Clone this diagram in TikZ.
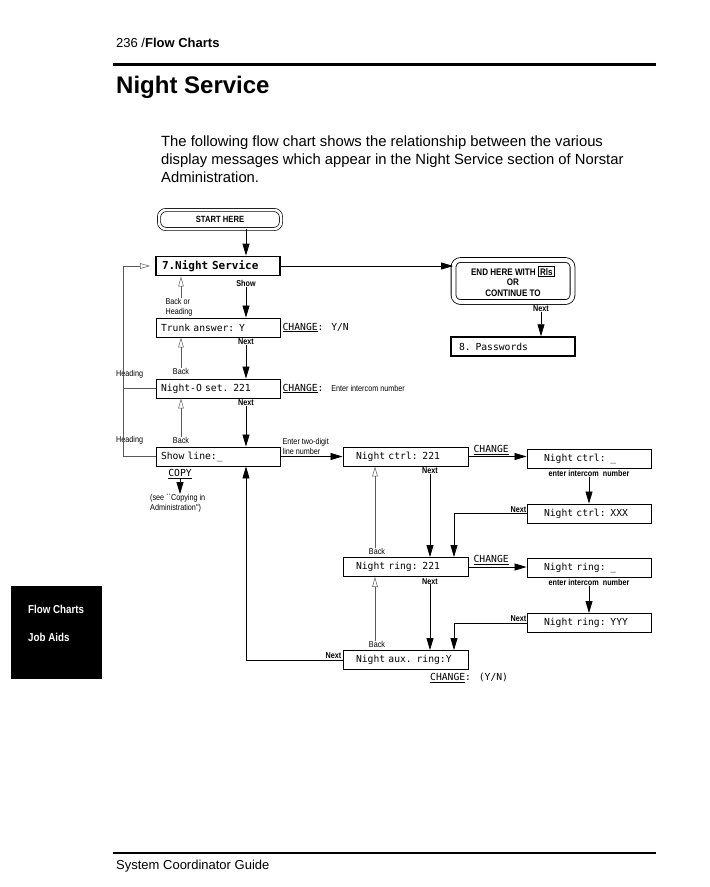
\documentclass[tikz,border=0pt]{standalone}
\usepackage{fontspec}
\setmainfont{Liberation Sans}
\newfontfamily\lcd{DejaVu Sans Mono}
\newfontfamily\cond[FakeStretch=0.85]{Liberation Sans}
\usetikzlibrary{positioning, arrows.meta, calc}
\newcommand{\Chg}{\underline{CHANGE}}
\newcommand{\Rls}{{\setlength\fboxrule{1.2pt}\setlength\fboxsep{1pt}\fbox{Rls}}}

\begin{document}
\begin{tikzpicture}[x=1pt, y=-1pt,
  every node/.style={inner sep=0pt},
  disp/.style 2 args={draw, line width=0.9pt, minimum height=19pt, inner ysep=0pt,
                      inner xsep=#1, text width=#2, align=left,
                      font=\lcd\fontsize{9.7}{10}\selectfont},
  startbox/.style={draw, double, double distance=2.5pt, line width=0.7pt,
                   rounded corners=7pt, minimum width=122pt, minimum height=19pt,
                   font=\cond\bfseries\fontsize{9}{10}\selectfont},
  endbox/.style={draw, double, double distance=4pt, line width=0.8pt,
                 rounded corners=7pt, minimum width=119pt, minimum height=42pt,
                 align=center, font=\cond\bfseries\fontsize{9.5}{10.5}\selectfont},
  lbl/.style={font=\cond\fontsize{8.5}{10}\selectfont, align=left},
  lblb/.style={font=\cond\bfseries\fontsize{8.5}{10}\selectfont},
  chg/.style={font=\lcd\fontsize{9.7}{10}\selectfont, inner xsep=2pt},
  arr/.style={-{Triangle[length=12pt, width=7pt]}, line width=0.8pt},
  back/.style={-{Triangle[open, length=10pt, width=5.5pt]}, gray!70!black, line width=0.5pt},
  backline/.style={gray!70!black, line width=0.5pt}
]
\fill[white] (0,0) rectangle (710,887);
\useasboundingbox (0,0) rectangle (710,887);

% page
\node[anchor=base west, font=\fontsize{13}{15}\selectfont] (pagehd) at (116,47) {236 /\textbf{Flow Charts}};
\draw[line width=3pt] (113,64) -- (656,64);
\node[anchor=base west, font=\bfseries\fontsize{24}{28}\selectfont] (title) at (116,93) {Night Service};
\node[anchor=north west, align=left, font=\fontsize{14.8}{18}\selectfont] (intro) at (161,136)
  {The following flow chart shows the relationship between the various\\
   display messages which appear in the Night Service section of Norstar\\
   Administration.};
\draw[line width=2pt] (113,853) -- (656,853);
\node[anchor=base west, font=\fontsize{13}{15}\selectfont] (foot) at (116,869) {System Coordinator Guide};
\fill (11,586) rectangle (102,679);
\node[anchor=base west, text=white, font=\cond\bfseries\fontsize{11.5}{13}\selectfont] (tab1) at (28,613) {Flow Charts};
\node[anchor=base west, text=white, font=\cond\bfseries\fontsize{11.5}{13}\selectfont] (tab2) at (28,641) {Job Aids};

% columns
\coordinate (cL) at (123,0);
\coordinate (cB) at (181,0);
\coordinate (cA) at (246,0);
\coordinate (cMb) at (375,0);
\coordinate (cM) at (430,0);
\coordinate (cMc) at (454,0);
\coordinate (cE) at (541,0);

% displays
\node[startbox] (start) at (220,219.5) {START HERE};
\node[disp={6pt}{112pt}, line width=1.8pt, font=\lcd\bfseries\fontsize{11}{11}\selectfont] (svc) at (218,266) {7.Night Service};
\node[endbox] (endh) at (513,281) {END HERE WITH \Rls\\OR\\CONTINUE TO};
\node[disp={8pt}{108pt}, line width=1.5pt] (pw) at (513,346.5) {8. Passwords};
\node[disp={5pt}{114pt}] (trunk) at (218,327.5) {Trunk answer: Y};
\node[disp={5pt}{114pt}] (nighto) at (218,388.5) {Night-O set. 221};
\node[disp={5pt}{114pt}] (showline) at (218,456.5) {Show line:\_};
\node[disp={13pt}{99pt}] (nctrl) at (405.5,456.5) {Night ctrl: 221};
\node[disp={13pt}{99pt}] (nring) at (405.5,567) {Night ring: 221};
\node[disp={13pt}{99pt}] (naux) at (405.5,660) {Night aux. ring:Y};
\node[disp={17pt}{90pt}] (cctrl) at (589,459) {Night ctrl: \_};
\node[disp={17pt}{90pt}] (xctrl) at (589,513.5) {Night ctrl: XXX};
\node[disp={17pt}{90pt}] (cring) at (589,568) {Night ring: \_};
\node[disp={17pt}{90pt}] (yring) at (589,623) {Night ring: YYY};

% change texts
\node[chg, anchor=west] (chg1) at (trunk.east) {\Chg: Y/N};
\node[chg, anchor=west] (chg2) at (nighto.east) {\Chg: {\cond\fontsize{8.5}{10}\selectfont Enter intercom number}};
\node[chg, anchor=south west] (chg3) at ($(nctrl.east)+(3,-2)$) {\Chg};
\node[chg, anchor=south west] (chg4) at ($(nring.east)+(3,-2)$) {\Chg};
\node[chg, anchor=north west] (chg5) at ($(naux.south -| cM)+(-2,3)$) {\Chg: (Y/N)};
\node[chg, anchor=north] (copy) at ($(showline.south -| cB)+(-1,3)$) {\underline{COPY}};
\node[lbl, anchor=north west] (see) at (150,494) {(see ``Copying in\\Administration'')};

% wires (main path)
\draw[arr] (start.south -| cA) -- (svc.north -| cA);
\draw[arr] (svc.east) -- (svc.east -| endh.west);
\node[lblb, anchor=north] (nx0) at ($(endh.south -| cE)+(0,3)$) {Next};
\draw[arr] (nx0) -- (pw.north -| nx0);
\node[lblb, anchor=north] (show) at ($(svc.south -| cA)+(0,4)$) {Show};
\draw[arr] (show) -- (trunk.north -| cA);
\node[lblb, anchor=north] (nx1) at ($(trunk.south -| cA)+(0,1)$) {Next};
\draw[arr] (nx1) -- (nighto.north -| cA);
\node[lblb, anchor=north] (nx2) at ($(nighto.south -| cA)+(0,1)$) {Next};
\draw[arr] (nx2) -- (showline.north -| cA);
\draw[arr] (copy) -- (see.north -| copy);
\draw[arr] (showline.east) -- (nctrl.west);
\node[lbl, anchor=south west] (twodig) at ($(showline.east)+(2,-2)$) {Enter two-digit\\line number};
\node[lblb, anchor=south east] (nxa) at ($(naux.west)+(-1,-1)$) {Next};
\draw[arr] (naux.west) -| (showline.south -| cA);

% wires (night ctrl / ring)
\node[lblb, anchor=north] (nx3) at ($(nctrl.south -| cM)+(0,1)$) {Next};
\draw[arr] (nx3) -- (nring.north -| cM);
\draw[arr] (nctrl.east) -- (nctrl.east -| cctrl.west);
\node[lblb, anchor=north] (eic1) at ($(cctrl.south)+(0,1)$) {enter intercom\ \ number};
\draw[arr] (eic1) -- (xctrl.north -| eic1);
\node[lblb, anchor=south east] (nx4) at ($(xctrl.west)+(0,-1)$) {Next};
\draw[arr] (xctrl.west) -| (nring.north -| cMc);
\node[lblb, anchor=north] (nx5) at ($(nring.south -| cM)+(0,1)$) {Next};
\draw[arr] (nx5) -- (naux.north -| cM);
\draw[arr] (nring.east) -- (nring.east -| cring.west);
\node[lblb, anchor=north] (eic2) at ($(cring.south)+(0,1)$) {enter intercom\ \ number};
\draw[arr] (eic2) -- (yring.north -| eic2);
\node[lblb, anchor=south east] (nx6) at ($(yring.west)+(0,-1)$) {Next};
\draw[arr] (yring.west) -| (naux.north -| cMc);

% back and heading (grey)
\node[lbl, anchor=south, align=left] (boh) at ($(trunk.north -| cB)+(-2,-1)$) {Back or\\Heading};
\draw[back] (boh.north -| cB) -- (svc.south -| cB);
\node[lbl, anchor=south] (bk1) at ($(nighto.north -| cB)+(0,-4)$) {Back};
\draw[back] (bk1) -- (trunk.south -| cB);
\node[lbl, anchor=south] (bk2) at ($(showline.north -| cB)+(0,-3)$) {Back};
\draw[back] (bk2) -- (nighto.south -| cB);
\node[lbl, anchor=south] (bk3) at ($(nring.north -| cMb)+(2,-2)$) {Back};
\draw[back] (bk3.north -| cMb) -- (nctrl.south -| cMb);
\node[lbl, anchor=south] (bk4) at ($(naux.north -| cMb)+(2,-2)$) {Back};
\draw[back] (bk4.north -| cMb) -- (nring.south -| cMb);
\node[lbl, anchor=south west] (hd1) at ($(nighto.west -| cL)+(-7,-10)$) {Heading};
\node[lbl, anchor=south west] (hd2) at ($(showline.west -| cL)+(-7,-12)$) {Heading};
\draw[back, shorten >=5pt] (nighto.west) -- (nighto.west -| cL) |- (svc.west);
\draw[backline] (showline.west) -| (nighto.west -| cL);
\end{tikzpicture}
\end{document}
